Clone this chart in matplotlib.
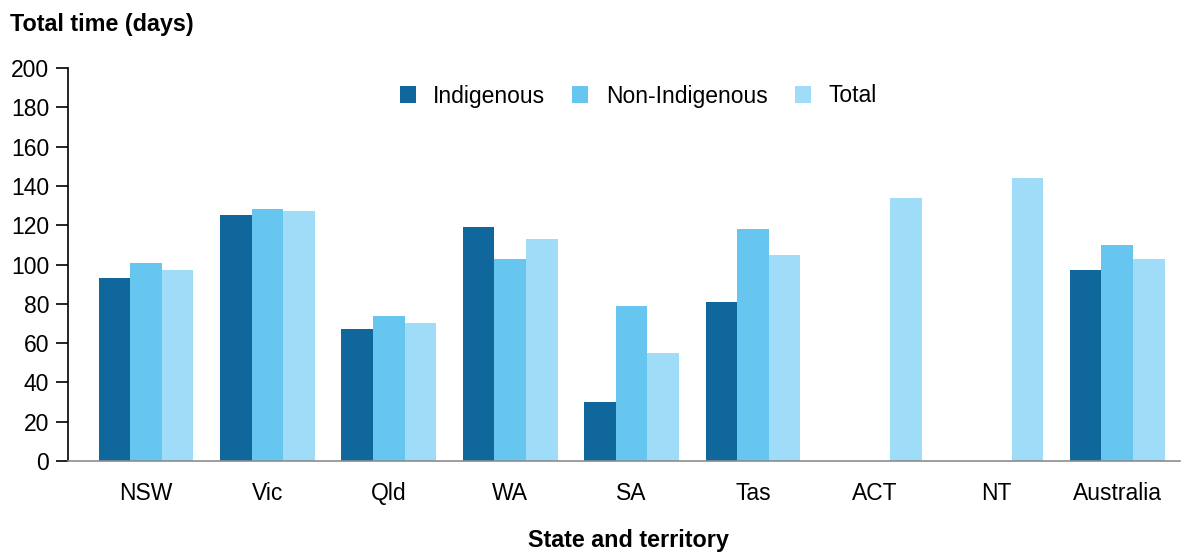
import matplotlib
matplotlib.use('Agg')
import matplotlib.pyplot as plt
import numpy as np

# Data
states = ['NSW', 'Vic', 'Qld', 'WA', 'SA', 'Tas', 'ACT', 'NT', 'Australia']
indigenous = [93, 125, 67, 119, 30, 81, np.nan, np.nan, 97]
non_indigenous = [101, 128, 74, 103, 79, 118, np.nan, np.nan, 110]
total = [97, 127, 70, 113, 55, 105, 134, 144, 103]
series_names = ['Indigenous', 'Non-Indigenous', 'Total']
yticks = list(range(0, 201, 20))

colors = ['#10679B', '#66C6F0', '#9EDCF7']

plt.rcParams['font.family'] = ['Liberation Sans', 'DejaVu Sans']

fig = plt.figure(figsize=(11.85, 5.52), dpi=100)
ax = fig.add_axes([68 / 1185, 1 - 461 / 552, (1180 - 68) / 1185, (461 - 68) / 552])

x = np.arange(len(states))
width = 0.26
for i, (vals, name) in enumerate(zip([indigenous, non_indigenous, total], series_names)):
    ax.bar(x + (i - 1) * width, vals, width, color=colors[i], label=name, linewidth=0)

ax.set_xlim(-0.6425, 8.517)
ax.set_ylim(0, 200)
ax.set_yticks(yticks)
ax.set_xticks(x)
ax.set_xticklabels(states)
ax.tick_params(axis='y', length=8.6, width=1.2, pad=5, labelsize=16.5)
ax.tick_params(axis='x', length=0, pad=15, labelsize=16.5)

for side in ['top', 'right']:
    ax.spines[side].set_visible(False)
ax.spines['left'].set_linewidth(1.2)
ax.spines['bottom'].set_color('#8c8c8c')
ax.spines['bottom'].set_linewidth(1.2)

fig.text(10 / 1185, 1 - 25 / 552, 'Total time (days)', fontsize=16.8, fontweight='bold',
         va='center', ha='left')
fig.text(628 / 1185, 1 - 541 / 552, 'State and territory', fontsize=16.8, fontweight='bold',
         va='center', ha='center')

fig.legend(loc='center', bbox_to_anchor=(638 / 1185, 1 - 96 / 552), ncol=3, frameon=False,
           fontsize=16.5, handlelength=0.7, handleheight=0.7, handletextpad=0.75,
           columnspacing=1.2)

plt.savefig('out.png', dpi=100)
